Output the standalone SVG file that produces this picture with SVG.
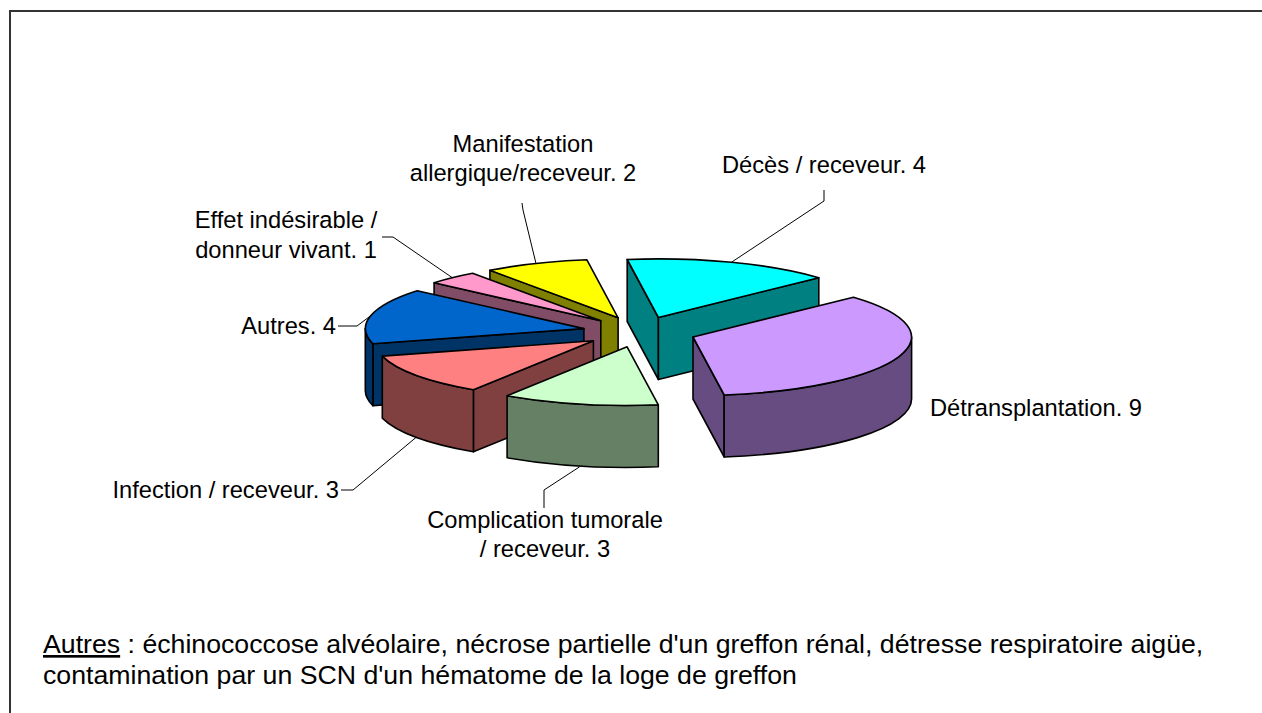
<svg xmlns="http://www.w3.org/2000/svg" width="1262" height="713" viewBox="0 0 1262 713">
<style>
.f{stroke:#000;stroke-width:1.6;stroke-linejoin:round}
.lbl{font-family:"Liberation Sans",Arial,sans-serif;font-size:23.7px;fill:#000}
.foot{font-family:"Liberation Sans",Arial,sans-serif;font-size:26.7px;fill:#000}
.ld{fill:none;stroke:#000;stroke-width:1}
</style>
<rect width="1262" height="713" fill="#fff"/>
<path d="M10,713 V11 H1262" fill="none" stroke="#333" stroke-width="2"/>

<g id="deces">
<path class="f" fill="#008080" d="M658.4,317.5 L627.2,259.5 L627.2,321.5 L658.4,379.5 Z"/>
<path class="f" fill="#008080" d="M658.4,317.5 L818.8,277.7 L818.8,339.7 L658.4,379.5 Z"/>
<path class="f" fill="#00FFFF" d="M658.4,317.5 L627.2,259.5 A218.6,58.6 0 0 1 818.8,277.7 Z"/>
</g>
<g id="manifestation">
<path class="f" fill="#808000" d="M618.1,317.8 L489.9,270.3 L489.9,332.3 L618.1,379.8 Z"/>
<path class="f" fill="#FFFF00" d="M618.1,317.8 L489.9,270.3 A218.6,58.6 0 0 1 586.9,259.8 Z"/>
</g>
<g id="effet">
<path class="f" fill="#804C66" d="M600.8,320.7 L434.1,282.8 L434.1,344.8 L600.8,382.7 Z"/>
<path class="f" fill="#FF99CC" d="M600.8,320.7 L434.1,282.8 A218.6,58.6 0 0 1 472.6,273.3 Z"/>
</g>
<g id="autres">
<path class="f" fill="#003366" d="M583.9,328.6 L372.9,343.8 L372.9,405.8 L583.9,390.6 Z"/>
<path class="f" fill="#003366" d="M372.9,343.8 A218.6,58.6 0 0 1 365.3,328.6 L365.3,390.6 A218.6,58.6 0 0 0 372.9,405.8 Z"/>
<path class="f" fill="#0066CC" d="M583.9,328.6 L372.9,343.8 A218.6,58.6 0 0 1 417.2,290.7 Z"/>
</g>
<g id="detransplantation">
<path class="f" fill="#664C80" d="M693,337 L724.2,395 L724.2,457 L693,399 Z"/>
<path class="f" fill="#664C80" d="M911.6,337 A218.6,58.6 0 0 1 724.2,395 L724.2,457 A218.6,58.6 0 0 0 911.6,399 Z"/>
<path class="f" fill="#CC99FF" d="M693,337 L853.4,297.2 A218.6,58.6 0 0 1 724.2,395 Z"/>
</g>
<g id="infection">
<path class="f" fill="#804040" d="M593.4,340.8 L473.4,389.8 L473.4,451.8 L593.4,402.8 Z"/>
<path class="f" fill="#804040" d="M473.4,389.8 A218.6,58.6 0 0 1 382.3,356.1 L382.3,418.1 A218.6,58.6 0 0 0 473.4,451.8 Z"/>
<path class="f" fill="#FF8080" d="M593.4,340.8 L473.4,389.8 A218.6,58.6 0 0 1 382.3,356.1 Z"/>
</g>
<g id="complication">
<path class="f" fill="#668066" d="M658.3,404.8 A218.6,58.6 0 0 1 507.1,395.8 L507.1,457.8 A218.6,58.6 0 0 0 658.3,466.8 Z"/>
<path class="f" fill="#CCFFCC" d="M627.1,346.8 L658.3,404.8 A218.6,58.6 0 0 1 507.1,395.8 Z"/>
</g>

<g id="connectors">
<path class="ld" d="M824,190 V201 L731.4,262.3"/>
<path class="ld" d="M522,203 L523,210 L536,263.5"/>
<path class="ld" d="M382,237 H393 L452.3,277.7"/>
<path class="ld" d="M338,326 H357 L370.6,315.8"/>
<path class="ld" d="M341,490 H353 L416.3,437.2"/>
<path class="ld" d="M579.6,466.8 L544,490 V508"/>
</g>

<g id="labels">
<text class="lbl" x="523" y="152" text-anchor="middle">Manifestation</text>
<text class="lbl" x="523" y="181" text-anchor="middle">allergique/receveur. 2</text>
<text class="lbl" x="824" y="173" text-anchor="middle">Décès / receveur. 4</text>
<text class="lbl" x="286" y="228" text-anchor="middle">Effet indésirable /</text>
<text class="lbl" x="286" y="258" text-anchor="middle">donneur vivant. 1</text>
<text class="lbl" x="336" y="334" text-anchor="end">Autres. 4</text>
<text class="lbl" x="339" y="498" text-anchor="end">Infection / receveur. 3</text>
<text class="lbl" x="545" y="528" text-anchor="middle">Complication tumorale</text>
<text class="lbl" x="545" y="557" text-anchor="middle">/ receveur. 3</text>
<text class="lbl" x="930" y="416">Détransplantation. 9</text>
</g>

<g id="footnote">
<text class="foot" x="43" y="653"><tspan text-decoration="underline">Autres</tspan> : échinococcose alvéolaire, nécrose partielle d'un greffon rénal, détresse respiratoire aigüe,</text>
<text class="foot" x="43" y="684">contamination par un SCN d'un hématome de la loge de greffon</text>
</g>
</svg>
